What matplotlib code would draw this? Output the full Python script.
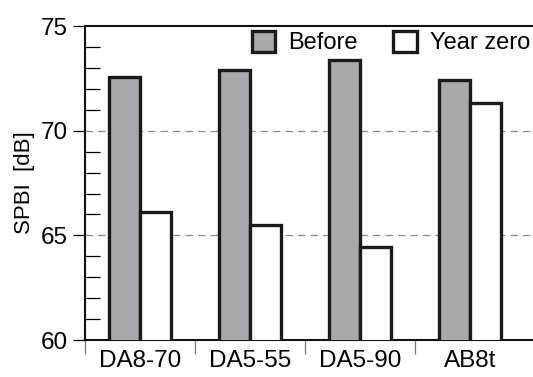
import matplotlib
matplotlib.use("Agg")
import matplotlib.pyplot as plt
import numpy as np

# SPBI levels per site, before resurfacing and at year zero
sites = ["DA8-70", "DA5-55", "DA5-90", "AB8t"]
before = [72.55, 72.9, 73.4, 72.4]
year_zero = [66.1, 65.5, 64.45, 71.3]

GRAY = "#a9a8ab"
EDGE = "#1a1a1a"

plt.rcParams["font.family"] = ["Liberation Sans", "DejaVu Sans"]

fig = plt.figure(figsize=(5.33, 3.77), dpi=100)
ax = fig.add_axes([0.159, 0.098, 0.841, 0.833])

x = np.arange(len(sites))
w = 0.28
ax.bar(x - w / 2, before, w, color=GRAY, edgecolor=EDGE,
       linewidth=2.4, label="Before", zorder=3)
ax.bar(x + w / 2, year_zero, w, color="white", edgecolor=EDGE,
       linewidth=2.4, label="Year zero", zorder=3)

ax.set_ylim(60, 75)
ax.set_xlim(-0.5, 3.57)

# dashed reference lines
for yv in (65, 70):
    ax.axhline(yv, color="#8c8c8c", lw=0.9, ls=(0, (6, 4)), zorder=1)

# y ticks: labelled every 5 dB, small inner ticks every 1 dB
ax.set_yticks([60, 65, 70, 75])
ax.set_yticks(np.arange(60, 76, 1), minor=True)
ax.tick_params(axis="y", which="major", direction="out", length=9,
               width=0.9, labelsize=17.5, pad=3)
ax.tick_params(axis="y", which="minor", direction="in", length=11,
               width=0.9)

# x ticks: labels at group centres, separators between groups
ax.set_xticks(x)
ax.set_xticklabels(sites)
ax.set_xticks([-0.5, 0.5, 1.5, 2.5], minor=True)
ax.tick_params(axis="x", which="major", length=0, labelsize=17.5, pad=7)
ax.tick_params(axis="x", which="minor", direction="out", length=10,
               width=0.9, color="#777777")

for side in ("left", "bottom", "top"):
    ax.spines[side].set_linewidth(1.5)
    ax.spines[side].set_color("#111111")
ax.spines["right"].set_visible(False)

ax.set_ylabel("SPBI  [dB]", fontsize=16, labelpad=4)

ax.legend(loc="upper right", bbox_to_anchor=(1.025, 1.03), ncol=2,
          frameon=False, fontsize=17, handlelength=1.0, handleheight=1.0,
          handletextpad=0.55, columnspacing=1.5, borderaxespad=0.2)

fig.savefig("out.png", dpi=100, facecolor="white")
